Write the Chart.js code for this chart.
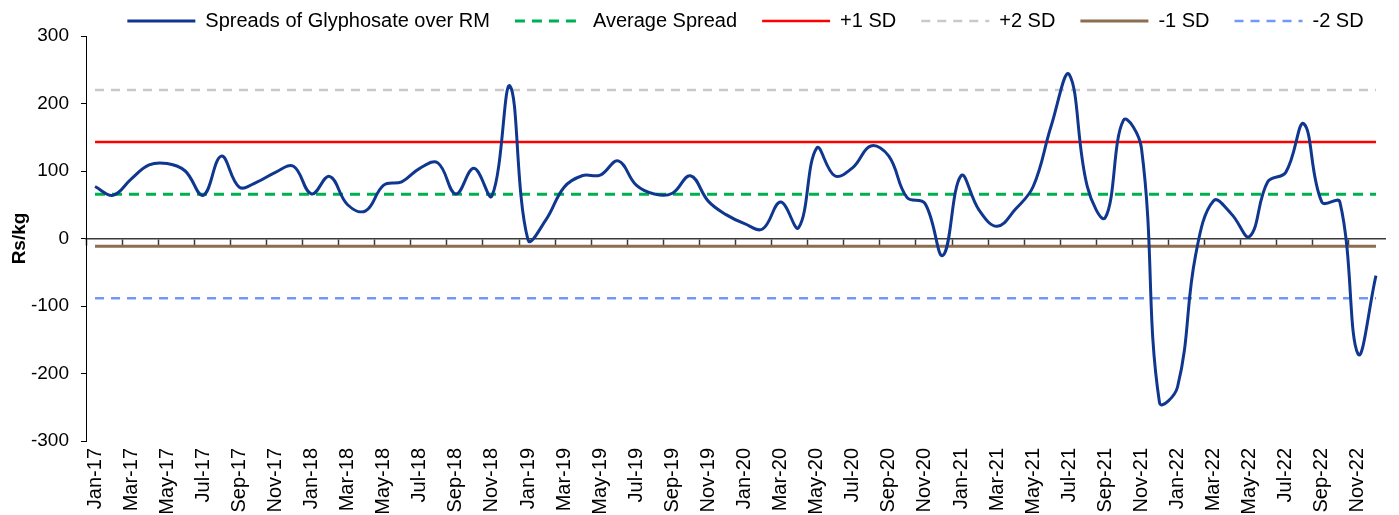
<!DOCTYPE html>
<html>
<head>
<meta charset="utf-8">
<script src="https://cdn.jsdelivr.net/npm/chart.js@4.4.1/dist/chart.umd.min.js"></script>
<style>
  body { margin: 0; background: #fff; }
  #wrap { width: 1399px; height: 515px; }
</style>
</head>
<body>
<div id="wrap"><canvas id="grafico" width="1399" height="515"></canvas></div>
<script>
// categorias: meses de Jan-17 a Dec-22
const meses = ['Jan','Feb','Mar','Apr','May','Jun','Jul','Aug','Sep','Oct','Nov','Dec'];
const anos = ['17','18','19','20','21','22'];
const categorias = anos.flatMap((a) => meses.map((m) => m + '-' + a));

// spread mensal (Rs/kg)
const spreads = [
  77, 64, 88, 109, 111, 100, 64, 122, 76, 84, 98, 107,
  66, 92, 50, 41, 79, 84, 104, 112, 66, 104, 63, 226,
  -2, 28, 76, 93, 94, 115, 79, 66, 67, 93, 55, 35,
  22, 14, 54, 16, 134, 93, 105, 137, 122, 61, 52, -25,
  93, 42, 18, 43, 77, 167, 243, 77, 31, 175, 134, -243,
  -220, -25, 56, 36, 3, 84, 98, 170, 54, 54, -171, -55
];

// linhas de referencia
const nomesNiveis = ['Average Spread', '+1 SD', '+2 SD', '-1 SD', '-2 SD'];
const valoresNiveis = [65.7, 142.8, 219.9, -11.4, -88.5];
const coresNiveis = ['#00b050', '#ff0000', '#c9c9c9', '#8c6d4f', '#7197f7'];
const tracosNiveis = [[10, 7], [], [9, 7], [], [9, 7]];
const largurasNiveis = [3, 2.5, 2.5, 3, 2.5];

const yTicks = [-300, -200, -100, 0, 100, 200, 300];

const fonte = "'Liberation Sans', Arial, sans-serif";

const datasets = [{
  label: 'Spreads of Glyphosate over RM',
  data: spreads,
  borderColor: '#10378f',
  backgroundColor: '#10378f',
  borderWidth: 3,
  pointRadius: 0,
  tension: 0.4
}];
nomesNiveis.forEach((nome, i) => {
  datasets.push({
    label: nome,
    data: categorias.map(() => valoresNiveis[i]),
    borderColor: coresNiveis[i],
    backgroundColor: coresNiveis[i],
    borderWidth: largurasNiveis[i],
    borderDash: tracosNiveis[i],
    pointRadius: 0,
    tension: 0
  });
});

// legenda um pouco deslocada para a direita, como no original
const deslocaLegenda = {
  id: 'deslocaLegenda',
  afterLayout(chart) {
    chart.legend.left += 10;
    chart.legend.right += 10;
  }
};

const ctx = document.getElementById('grafico');
new Chart(ctx, {
  type: 'line',
  data: { labels: categorias, datasets: datasets },
  plugins: [deslocaLegenda],
  options: {
    responsive: false,
    animation: false,
    layout: { padding: { top: -14, right: 14, bottom: 0, left: 0 } },
    plugins: {
      tooltip: { enabled: false },
      legend: {
        position: 'top',
        fullSize: false,
        maxHeight: 50,
        labels: {
          usePointStyle: true,
          pointStyle: 'line',
          pointStyleWidth: 68,
          padding: 25,
          color: '#000',
          font: { family: fonte, size: 20 },
          generateLabels: (chart) => {
            const itens = Chart.defaults.plugins.legend.labels.generateLabels(chart);
            itens.forEach((item) => {
              const ds = chart.data.datasets[item.datasetIndex];
              item.lineDash = ds.borderDash || [];
              item.lineWidth = ds.borderWidth;
              item.strokeStyle = ds.borderColor;
            });
            return itens;
          }
        }
      }
    },
    scales: {
      x: {
        type: 'category',
        position: 'bottom',
        offset: true,
        afterFit: (s) => { s.height = 74; s.paddingLeft = 0; s.paddingRight = 0; },
        grid: { display: false, drawTicks: false },
        border: { display: false },
        ticks: {
          autoSkip: false,
          minRotation: 90,
          maxRotation: 90,
          padding: 7,
          color: '#000',
          font: { family: fonte, size: 20 },
          callback: function (v, i) { return i % 2 === 0 ? this.getLabelForValue(v) : ''; }
        }
      },
      x0: {
        type: 'category',
        position: { y: 0 },
        offset: true,
        grid: {
          display: true,
          offset: true,
          drawOnChartArea: false,
          drawTicks: true,
          tickLength: 6,
          tickWidth: 1.5,
          tickColor: (c) => (c.index % 2 === 0 ? '#3a3a3a' : 'rgba(0,0,0,0)')
        },
        border: { display: true, color: '#3a3a3a', width: 1.5 },
        ticks: { display: false }
      },
      y: {
        min: -300,
        max: 300,
        afterBuildTicks: (s) => { s.ticks = yTicks.map((v) => ({ value: v })); },
        afterFit: (s) => { s.width = 86; },
        grid: {
          display: true,
          drawOnChartArea: false,
          drawTicks: true,
          tickLength: 5,
          tickColor: '#000'
        },
        border: { display: true, color: '#000', width: 1 },
        ticks: {
          padding: 12,
          color: '#000',
          font: { family: fonte, size: 19 }
        },
        title: {
          display: true,
          text: 'Rs/kg',
          color: '#000',
          font: { family: fonte, size: 19, weight: 'bold' },
          padding: { top: 8, bottom: 0 }
        }
      }
    }
  }
});
</script>
</body>
</html>
